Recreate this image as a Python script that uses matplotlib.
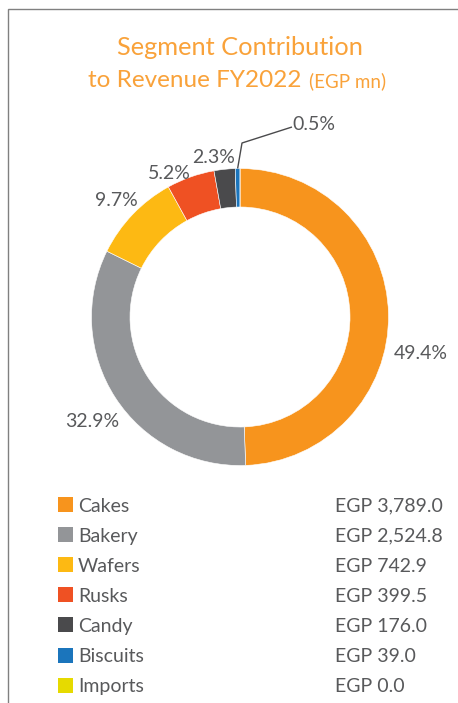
import numpy as np
import matplotlib
matplotlib.use("Agg")
import matplotlib.pyplot as plt
from matplotlib.patches import Rectangle

# data
segments = ["Cakes", "Bakery", "Wafers", "Rusks", "Candy", "Biscuits", "Imports"]
revenue = [3789.0, 2524.8, 742.9, 399.5, 176.0, 39.0, 0.0]
colors = ["#F7941D", "#939598", "#FDB913", "#EF5123", "#4A4A4C", "#1B75BC", "#E6DA00"]

title1 = "Segment Contribution"
title2 = "to Revenue FY2022"
title_unit = "(EGP mn)"

# layout (pixel coords, image y measured from top)
W, H = 458, 703
cx, cy = 240, 317
R_out, ring = 148.5, 38.5
# label placement: (angle shift from wedge middle, radius) per slice
label_shift = [(-12, 184), (2, 180), (0, 171), (6.6, 161), (3.5, 163), (-21.7, 208), None]

txt_gray = "#58595B"
title_col = "#F9A23A"
plt.rcParams["font.family"] = ["Lato", "DejaVu Sans"]


def Y(y):
    return H - y


fig = plt.figure(figsize=(W / 100, H / 100), dpi=100)
ax = fig.add_axes([0, 0, 1, 1])

wedges, _ = ax.pie(revenue, colors=colors, startangle=90, counterclock=False,
                   radius=R_out, center=(cx, Y(cy)),
                   wedgeprops=dict(width=ring, edgecolor="white", linewidth=0.4))
ax.set_xlim(0, W)
ax.set_ylim(0, H)
ax.set_aspect("equal")
ax.axis("off")

total = sum(revenue)
lab_size = 14
for w, v, sh in zip(wedges, revenue, label_shift):
    if sh is None or v == 0:
        continue
    mid = (w.theta1 + w.theta2) / 2
    a = np.deg2rad(mid + sh[0])
    x = cx + sh[1] * np.cos(a)
    y = Y(cy) + sh[1] * np.sin(a)
    ax.text(x, y - 7, f"{v / total * 100:.1f}%", ha="center", va="baseline",
            fontsize=lab_size, color=txt_gray)

# leader line for the tiny Biscuits slice
bw = wedges[5]
bm = np.deg2rad((bw.theta1 + bw.theta2) / 2)
lx = [cx + R_out * np.cos(bm), 242, 292]
ly = [Y(cy) + R_out * np.sin(bm), Y(143), Y(127)]
ax.plot(lx, ly, color="#4A4A4C", lw=1.0, solid_capstyle="butt")

# title
ax.text(cx, Y(55), title1, ha="center", va="baseline", fontsize=18.3, color=title_col)
ax.text(302, Y(87), title2, ha="right", va="baseline", fontsize=17.5, color=title_col)
ax.text(309, Y(87), title_unit, ha="left", va="baseline", fontsize=13.5, color=title_col)

# legend
y0, dy = 504.5, 30.1
for i, (name, v, c) in enumerate(zip(segments, revenue, colors)):
    yc = y0 + i * dy
    ax.add_patch(Rectangle((58, Y(yc) - 7.5), 15, 15, color=c, lw=0))
    ax.text(78, Y(yc) - 7, name, ha="left", va="baseline", fontsize=14, color=txt_gray)
    ax.text(335, Y(yc) - 7, f"EGP {v:,.1f}", ha="left", va="baseline",
            fontsize=14, color=txt_gray)

# frame lines on left and top
ax.plot([8, 8, W], [0, Y(9), Y(9)], color="#808080", lw=1.0, solid_joinstyle="miter")

fig.savefig("out.png", dpi=100)
